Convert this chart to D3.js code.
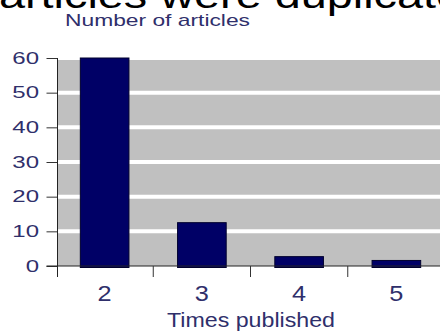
<!DOCTYPE html>
<html>
<head>
<meta charset="utf-8">
<script src="https://cdn.jsdelivr.net/npm/d3@7"></script>
<style>
  body { margin: 0; background: #fff; }
  svg { display: block; font-family: "Liberation Sans", Arial, sans-serif; }
</style>
</head>
<body>
<div id="vis"></div>
<script>
// data
var categories = ["2", "3", "4", "5"];
var articles = [60, 12.5, 2.7, 1.6];
var yTicks = [0, 10, 20, 30, 40, 50, 60];
var headline = "articles were duplicated";
var yTitle = "Number of articles";
var xTitle = "Times published";

var chart = {};
chart.fullWidth = 440;
chart.fullHeight = 332;
chart.navy = "#000066";
chart.ink = "#2f2f6b";

// scales
chart.x = d3.scaleBand().domain(categories).range([56, 445]).paddingInner(0.5).paddingOuter(0.25);
chart.y = d3.scaleLinear().domain([0, 60]).range([266, 58]);
chart.axisX = 57.5;

var svg = d3.select("#vis").append("svg")
  .attr("width", chart.fullWidth)
  .attr("height", chart.fullHeight);

// headline cut off at the top of the picture
svg.append("text")
  .attr("transform", "translate(-1,8) scale(1.3,1)")
  .attr("font-size", 36)
  .attr("fill", "#000")
  .text(headline);

// y title
svg.append("text")
  .attr("x", 65).attr("y", 26)
  .attr("font-size", 17)
  .attr("textLength", 185)
  .attr("lengthAdjust", "spacingAndGlyphs")
  .attr("fill", chart.ink)
  .text(yTitle);

// gray plot background
svg.append("rect")
  .attr("x", chart.axisX)
  .attr("y", chart.y(60))
  .attr("width", chart.fullWidth - chart.axisX)
  .attr("height", chart.y(0) - chart.y(60))
  .attr("fill", "#c0c0c0");

// white gridlines
svg.selectAll("line.grid")
  .data(yTicks.filter(function(d) { return d > 0; }))
  .enter().append("line")
  .attr("class", "grid")
  .attr("x1", chart.axisX).attr("x2", chart.fullWidth)
  .attr("y1", chart.y).attr("y2", chart.y)
  .attr("stroke", "#fff")
  .attr("stroke-width", 4);

// bars
svg.selectAll("rect.bar")
  .data(articles)
  .enter().append("rect")
  .attr("class", "bar")
  .attr("x", function(d, i) { return chart.x(categories[i]); })
  .attr("width", chart.x.bandwidth())
  .attr("y", function(d) { return chart.y(d); })
  .attr("height", function(d) { return chart.y(0) - chart.y(d) + 1.5; })
  .attr("fill", chart.navy)
  .attr("stroke", "#00002e")
  .attr("stroke-width", 1);

// y axis
var yAxis = svg.append("g")
  .attr("transform", "translate(" + chart.axisX + ",0)")
  .call(d3.axisLeft(chart.y).tickValues(yTicks).tickSize(11).tickFormat(""));
yAxis.select(".domain").remove();
yAxis.selectAll("line").attr("stroke", "#333");
yAxis.append("line")
  .attr("x1", 0).attr("x2", 0)
  .attr("y1", chart.y(60)).attr("y2", chart.y(0) + 11)
  .attr("stroke", "#222");

svg.selectAll("text.ylab")
  .data(yTicks)
  .enter().append("text")
  .attr("class", "ylab")
  .attr("transform", function(d) { return "translate(39," + chart.y(d) + ") scale(1.5,1)"; })
  .attr("dy", "0.36em")
  .attr("text-anchor", "end")
  .attr("font-size", 16)
  .attr("fill", chart.ink)
  .text(function(d) { return d; });

// x axis
svg.append("line")
  .attr("x1", chart.axisX - 11).attr("x2", chart.fullWidth)
  .attr("y1", chart.y(0)).attr("y2", chart.y(0))
  .attr("stroke", "#222");

svg.selectAll("line.xtick")
  .data(categories.slice(1))
  .enter().append("line")
  .attr("class", "xtick")
  .attr("x1", function(d) { return chart.x(d) - chart.x.step() * 0.25; })
  .attr("x2", function(d) { return chart.x(d) - chart.x.step() * 0.25; })
  .attr("y1", chart.y(0)).attr("y2", chart.y(0) + 11)
  .attr("stroke", "#333");

svg.selectAll("text.xlab")
  .data(categories)
  .enter().append("text")
  .attr("class", "xlab")
  .attr("transform", function(d) {
    return "translate(" + (chart.x(d) + chart.x.bandwidth() / 2) + ",301) scale(1.15,1)";
  })
  .attr("text-anchor", "middle")
  .attr("font-size", 22)
  .attr("fill", chart.ink)
  .text(function(d) { return d; });

// x title
svg.append("text")
  .attr("x", 167).attr("y", 327)
  .attr("font-size", 21)
  .attr("textLength", 168)
  .attr("lengthAdjust", "spacingAndGlyphs")
  .attr("fill", chart.ink)
  .text(xTitle);
</script>
</body>
</html>
